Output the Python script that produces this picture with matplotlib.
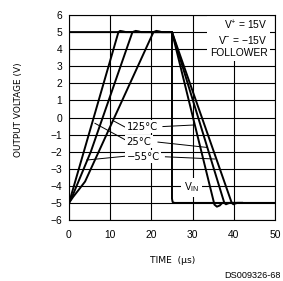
import numpy as np
import matplotlib
matplotlib.use("Agg")
import matplotlib.pyplot as plt
from matplotlib.patches import Rectangle

plt.rcParams['font.family'] = ['Liberation Sans', 'DejaVu Sans']
plt.rcParams['mathtext.default'] = 'regular'

# input step (follower)
vin_t = [0, 25, 25, 25.15, 25.6, 50]
vin_v = [5, 5, -4.75, -4.95, -5, -5]

# output curves, rising then falling edge
t_125 = [0, 12.0, 12.4, 13.1, 13.8, 25, 35.3, 35.9, 36.6, 37.2, 42]
v_125 = [-5, 5, 5.07, 5.04, 5.0, 5, -5.1, -5.22, -5.15, -5.0, -5]
t_25 = [0, 1.0, 5.3, 15.4, 16.2, 16.9, 17.5, 25, 37.7, 38.1, 38.6, 39.0, 42]
v_25 = [-5, -4.5, -2, 5, 5.07, 5.04, 5.0, 5, -5, -5.08, -5.03, -5, -5]
t_m55 = [0, 1.0, 2.3, 3.9, 20.5, 21.2, 21.9, 22.5, 25, 39.5, 39.9, 40.4, 40.9, 42]
v_m55 = [-5, -4.65, -4.25, -3.75, 5, 5.07, 5.04, 5.0, 5, -5, -5.08, -5.03, -5, -5]

temp_labels = ['125°C', '25°C', '−55°C']
label_y = [-0.54, -1.42, -2.3]
# leader ends: (left point, right point)
lead_left = [((10.75, -0.19), (13.6, -0.56)),
             ((6.3, -0.34), (13.6, -1.3)),
             ((4.3, -2.49), (13.9, -2.26))]
lead_right = [((22.8, -0.53), (30.2, -0.44)),
              ((21.6, -1.44), (33.4, -1.75)),
              ((23.4, -2.3), (35.4, -2.43))]

cond_lines = ['V$^{+}$ = 15V', 'V$^{-}$ = −15V', 'FOLLOWER']
cond_y = [5.4, 4.55, 3.75]

fig = plt.figure(figsize=(2.83, 2.81), dpi=100)
ax = fig.add_axes([0.2438, 0.2171, 0.7279, 0.7295])

ax.set_xlim(0, 50)
ax.set_ylim(-6, 6)
ax.set_xticks(np.arange(0, 51, 10))
ax.set_yticks(np.arange(-6, 7, 1))
ax.set_yticklabels(['−%d' % -v if v < 0 else '%d' % v for v in range(-6, 7)])
ax.grid(True, color='black', linewidth=0.8)
ax.tick_params(length=0, labelsize=7.4)
ax.tick_params(axis='x', pad=7)
ax.tick_params(axis='y', pad=5)
for s in ax.spines.values():
    s.set_linewidth(0.8)
ax.set_axisbelow(True)

# white block behind the conditions text
ax.add_patch(Rectangle((33.5, 3.3), 15.3, 2.65, facecolor='white',
                       edgecolor='none', zorder=2))

lw = 1.4
ax.plot(vin_t, vin_v, color='black', lw=lw, zorder=3)
ax.plot(t_125, v_125, color='black', lw=lw, zorder=3)
ax.plot(t_25, v_25, color='black', lw=lw, zorder=3)
ax.plot(t_m55, v_m55, color='black', lw=lw, zorder=3)

for (p0, p1) in lead_left + lead_right:
    ax.plot([p0[0], p1[0]], [p0[1], p1[1]], color='black', lw=0.7, zorder=4)

box = dict(facecolor='white', edgecolor='none', pad=1.0)
for txt, y in zip(temp_labels, label_y):
    ax.text(14.0, y, txt, fontsize=7.2, family='DejaVu Sans', ha='left',
            va='center', bbox=box, zorder=5)

ax.text(29.8, -4.1, 'V$_{IN}$', fontsize=7.4, ha='center', va='center',
        bbox=dict(facecolor='white', edgecolor='none', pad=2.0), zorder=5)

for txt, y in zip(cond_lines, cond_y):
    ax.text(48.2, y, txt, fontsize=7.4, ha='right', va='center', zorder=5)

fig.text(0.064, 0.61, 'OUTPUT VOLTAGE (V)', rotation=90, fontsize=6.4,
         family='DejaVu Sans', ha='center', va='center')
fig.text(0.611, 0.072, 'TIME  (μs)', fontsize=6.6, family='DejaVu Sans',
         ha='center', va='center')
fig.text(0.99, 0.018, 'DS009326-68', fontsize=6.6, ha='right', va='center')

fig.savefig('out.png', dpi=100)
